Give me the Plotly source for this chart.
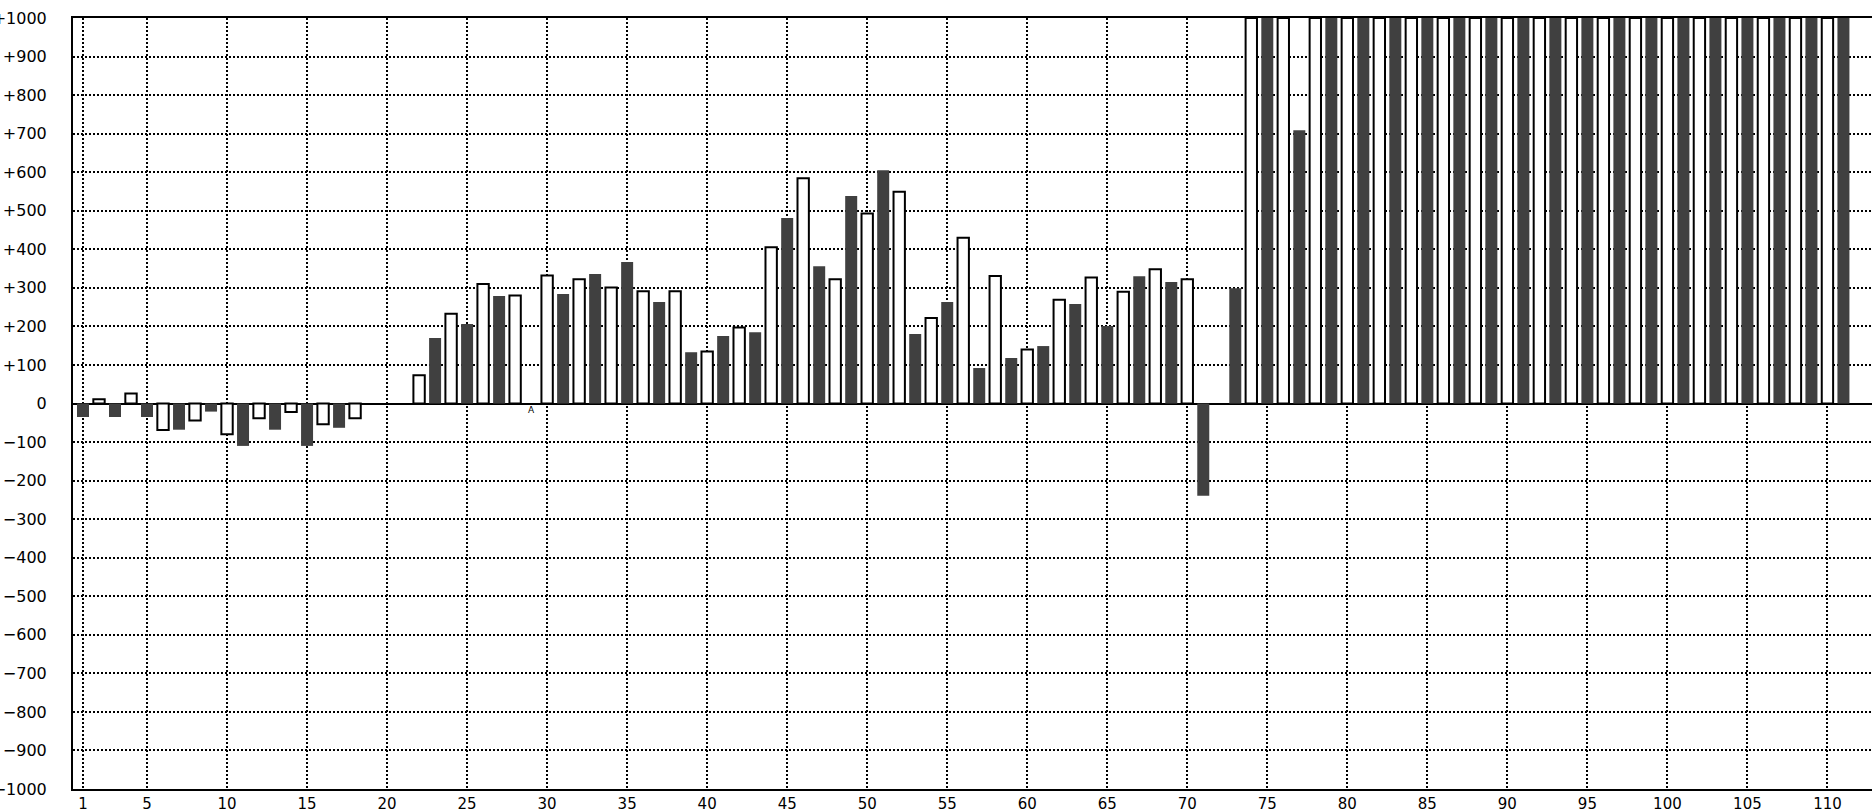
import plotly.graph_objects as go

# Odd positions: dark bars; even positions: white (outlined) bars
odd_x = list(range(1, 112, 2))
odd_vals = [-35, -35, -35, -68, -21, -110, -68, -110, -63, None,
            None, 170, 206, 279, None, 284, 336, 367, 263, 133,
            175, 185, 481, 356, 538, 605, 180, 263, 92, 118,
            149, 258, 201, 330, 315, -239, 299, 1000, 709, 1000,
            1000, 1000, 1000, 1000, 1000, 1000, 1000, 1000, 1000, 1000,
            1000, 1000, 1000, 1000, 1000, 1000]

even_x = list(range(2, 111, 2))
even_vals = [11, 26, -69, -44, -80, -38, -22, -54, -38, None,
             73, 233, 310, 280, 332, 322, 301, 291, 291, 135,
             197, 405, 584, 322, 493, 549, 222, 430, 331, 140,
             269, 327, 290, 348, 322, None, 1000, 1000, 1000, 1000,
             1000, 1000, 1000, 1000, 1000, 1000, 1000, 1000, 1000, 1000,
             1000, 1000, 1000, 1000, 1000]

x_tickvals = [1] + list(range(5, 111, 5))
y_tickvals = list(range(-1000, 1001, 100))
y_ticktext = [("+" + str(v)) if v > 0 else ("0" if v == 0 else "\u2212" + str(-v)) for v in y_tickvals]

fig = go.Figure()
fig.add_trace(go.Bar(x=even_x, y=even_vals, width=0.71,
                     marker=dict(color="white", line=dict(color="black", width=2)),
                     showlegend=False))
fig.add_trace(go.Bar(x=odd_x, y=odd_vals, width=0.75,
                     marker=dict(color="#404040", line=dict(width=0)),
                     showlegend=False))

fig.add_annotation(x=29, y=0, text="A", showarrow=False, yanchor="top",
                   yshift=1, font=dict(family="DejaVu Sans", size=9, color="black"))

fig.update_layout(
    width=1872, height=810,
    margin=dict(l=73, r=0, t=18, b=21, pad=0, autoexpand=False),
    paper_bgcolor="white", plot_bgcolor="white",
    barmode="overlay",
    font=dict(family="DejaVu Sans", size=16, color="black"),
)
fig.update_xaxes(
    automargin=False,
    range=[0.375, 0.375 + 1799 / 16.004],
    tickvals=x_tickvals, ticktext=[str(v) for v in x_tickvals],
    tickfont=dict(size=15),
    showgrid=True, gridcolor="black", gridwidth=2, griddash="2px,2px",
    showline=True, linecolor="black", linewidth=2, mirror=True,
    ticks="", ticklabelstandoff=0, zeroline=False,
)
fig.update_yaxes(
    automargin=False,
    range=[-1000, 1000],
    tickvals=y_tickvals, ticktext=y_ticktext,
    showgrid=True, gridcolor="black", gridwidth=2, griddash="2px,2px",
    showline=True, linecolor="black", linewidth=2, mirror=False,
    zeroline=True, zerolinecolor="black", zerolinewidth=2,
    ticks="", ticklabelstandoff=21,
)

fig.write_html(
    "out.html",
    config={"displayModeBar": False},
    post_script="document.body.style.margin='0';document.body.style.overflow='hidden';",
)
